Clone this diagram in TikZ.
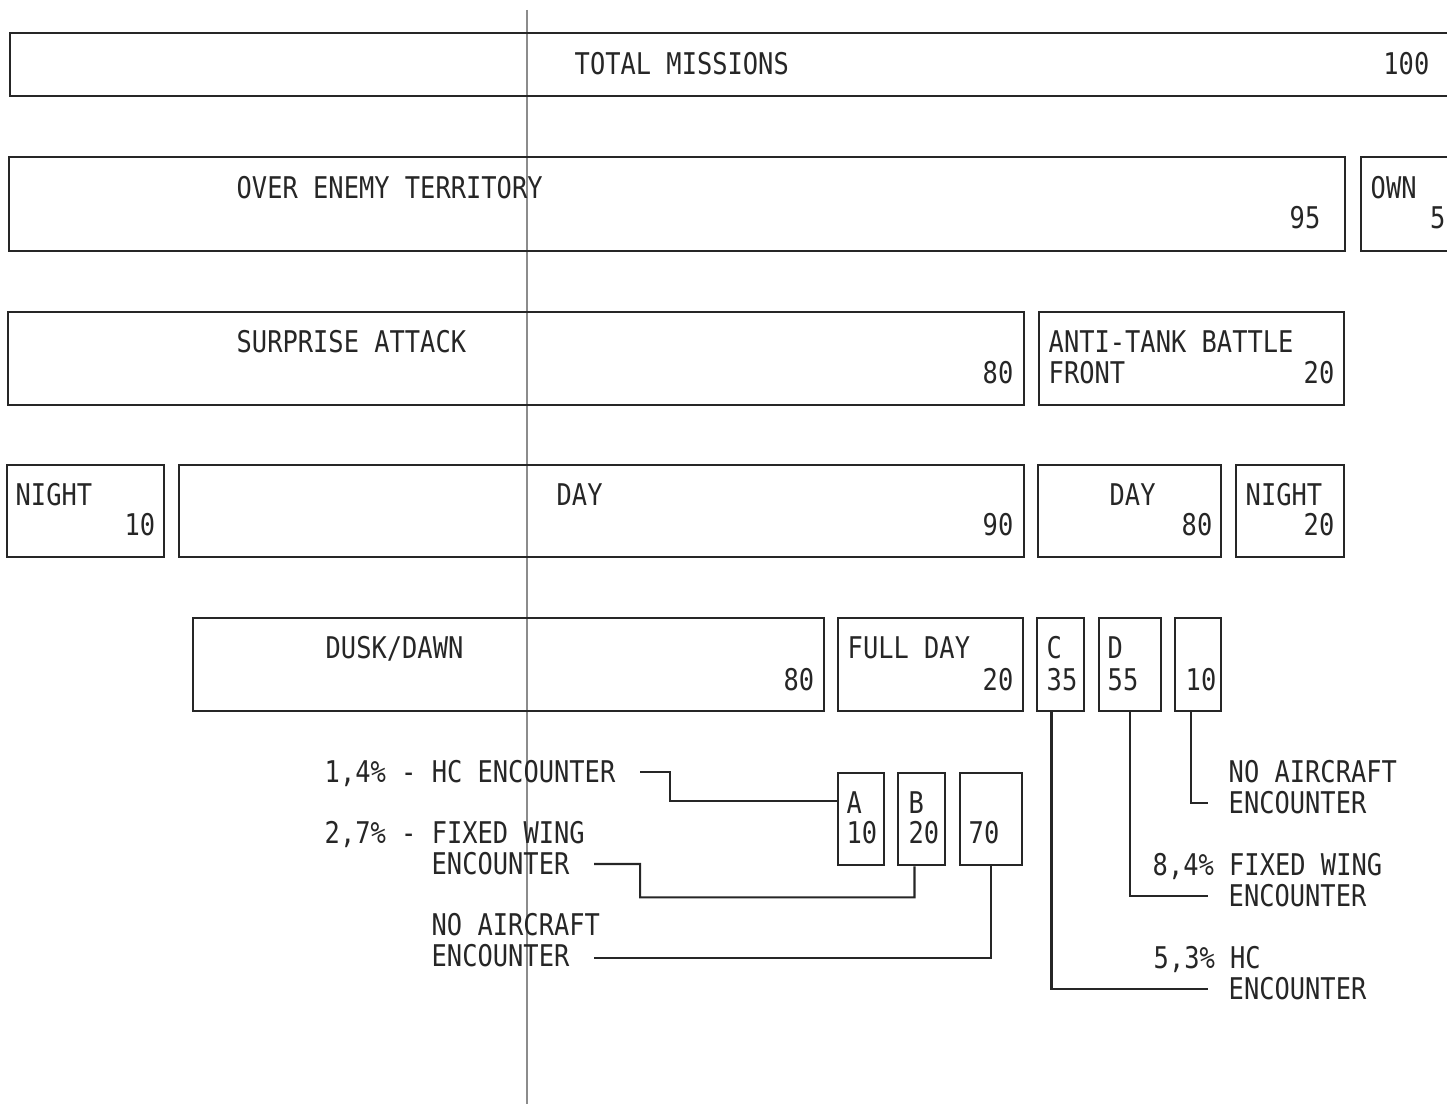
\documentclass[tikz,border=0pt]{standalone}
\usepackage{fontspec}
\newfontfamily\chartfont[FakeStretch=0.85]{DejaVu Sans Mono}
\usetikzlibrary{positioning, fit, calc}

\begin{document}
\begin{tikzpicture}[
    x=0.01cm, y=-0.01cm,
    box/.style={rectangle, draw=black!85, line width=0.75pt, inner sep=0pt},
    lbl/.style={anchor=west, inner sep=0pt, text height=6.2pt, text depth=0pt,
                font=\chartfont\fontsize{8.5pt}{10pt}\selectfont, text=black!85},
    num/.style={lbl, anchor=east},
    link/.style={draw=black!85, line width=0.6pt},
  ]

  % Page size in pixel units (x right, y down)
  \useasboundingbox (0,0) rectangle (1447,1104);
  \clip (0,0) rectangle (1447,1104);

  % Row tops / bottoms
  \def\topA{33}   \def\botA{96}    % total
  \def\topB{157}  \def\botB{251}   % territory
  \def\topC{312}  \def\botC{405}   % attack type
  \def\topD{465}  \def\botD{557}   % day / night
  \def\topE{618}  \def\botE{711}   % light / encounter groups
  \def\topF{773}  \def\botF{865}   % encounter groups (day)

  % fold line of the sheet
  \draw[black!45, line width=0.3pt] (527,10) -- (527,1104);

  % ── Total ────────────────────────────────────────────────────────────
  \node[box, fit={(10,\topA)(1480,\botA)}] (tot) {};
  \node[lbl] (totT) at (574,64) {TOTAL MISSIONS};
  \node[num] (totN) at (1430,64) {100};

  % ── Territory ────────────────────────────────────────────────────────
  \node[box, fit={(9,\topB)(1345,\botB)}] (enemy) {};
  \node[lbl] (enemyT) at (236,188) {OVER ENEMY TERRITORY};
  \node[num] (enemyN) at (1321,218) {95};

  \node[box, fit={(1361,\topB)(1480,\botB)}] (own) {};
  \node[lbl] (ownT) at (1370,188) {OWN};
  \node[num] (ownN) at (1446,218) {5};

  % ── Attack type ──────────────────────────────────────────────────────
  \node[box, fit={(8,\topC)(1024,\botC)}] (surp) {};
  \node[lbl] (surpT) at (236,342) {SURPRISE ATTACK};
  \node[num] (surpN) at (1014,373) {80};

  \node[box, fit={(1039,\topC)(1344,\botC)}] (atb) {};
  \node[lbl] (atbT) at (1048,342) {ANTI-TANK BATTLE};
  \node[lbl] (atbT2) at (1048,373) {FRONT};
  \node[num] (atbN) at (1335,373) {20};

  % ── Day / night ──────────────────────────────────────────────────────
  \node[box, fit={(7,\topD)(164,\botD)}] (snight) {};
  \node[lbl] (snightT) at (15,495) {NIGHT};
  \node[num] (snightN) at (156,525) {10};

  \node[box, fit={(179,\topD)(1024,\botD)}] (sday) {};
  \node[lbl] (sdayT) at (556,495) {DAY};
  \node[num] (sdayN) at (1014,525) {90};

  \node[box, fit={(1038,\topD)(1221,\botD)}] (aday) {};
  \node[lbl] (adayT) at (1109,495) {DAY};
  \node[num] (adayN) at (1213,525) {80};

  \node[box, fit={(1236,\topD)(1344,\botD)}] (anight) {};
  \node[lbl] (anightT) at (1245,495) {NIGHT};
  \node[num] (anightN) at (1335,525) {20};

  % ── Light / encounter groups ─────────────────────────────────────────
  \node[box, fit={(193,\topE)(824,\botE)}] (dusk) {};
  \node[lbl] (duskT) at (325,648) {DUSK/DAWN};
  \node[num] (duskN) at (815,680) {80};

  \node[box, fit={(838,\topE)(1023,\botE)}] (full) {};
  \node[lbl] (fullT) at (847,648) {FULL DAY};
  \node[num] (fullN) at (1014,680) {20};

  \node[box, fit={(1037,\topE)(1084,\botE)}] (grpC) {};
  \node[lbl] (grpCT) at (1046,648) {C};
  \node[lbl] (grpCN) at (1046,680) {35};

  \node[box, fit={(1099,\topE)(1161,\botE)}] (grpD) {};
  \node[lbl] (grpDT) at (1107,648) {D};
  \node[lbl] (grpDN) at (1107,680) {55};

  \node[box, fit={(1175,\topE)(1221,\botE)}] (grpX) {};
  \node[lbl] (grpXN) at (1185,680) {10};

  \node[box, fit={(838,\topF)(884,\botF)}] (grpA) {};
  \node[lbl] (grpAT) at (846,803) {A};
  \node[lbl] (grpAN) at (846,833) {10};

  \node[box, fit={(898,\topF)(945,\botF)}] (grpB) {};
  \node[lbl] (grpBT) at (908,803) {B};
  \node[lbl] (grpBN) at (908,833) {20};

  \node[box, fit={(960,\topF)(1022,\botF)}] (grpN) {};
  \node[lbl] (grpNN) at (968,833) {70};

  % ── Encounter notes, full day ────────────────────────────────────────
  \node[lbl] (noteA) at (324,772) {1,4\% - HC ENCOUNTER};
  \node[lbl] (noteB1) at (324,833) {2,7\% - FIXED WING};
  \node[lbl] (noteB2) at (431,864) {ENCOUNTER};
  \node[lbl] (noteN1) at (431,925) {NO AIRCRAFT};
  \node[lbl] (noteN2) at (431,956) {ENCOUNTER};

  \draw[link] ([xshift=0.24cm]noteA.east) -- ++(30,0)
    |- ($(grpA.north west)+(0,29)$);
  \draw[link] ([xshift=0.24cm]noteB2.east) -- ++(46,0)
    |- ($(grpB.south)+(-7,31)$) -- ([xshift=-0.07cm]grpB.south);
  \draw[link] ([xshift=0.24cm,yshift=-0.02cm]noteN2.east) -| (grpN.south);

  % ── Encounter notes, anti-tank day ───────────────────────────────────
  \node[lbl] (noteX1) at (1228,772) {NO AIRCRAFT};
  \node[lbl] (noteX2) at (1228,803) {ENCOUNTER};
  \node[lbl] (noteD1) at (1152,865) {8,4\% FIXED WING};
  \node[lbl] (noteD2) at (1228,896) {ENCOUNTER};
  \node[lbl] (noteC1) at (1153,958) {5,3\% HC};
  \node[lbl] (noteC2) at (1228,989) {ENCOUNTER};

  \draw[link] ([xshift=-0.07cm]grpX.south) |- ([xshift=-0.2cm]noteX2.west);
  \draw[link] (grpD.south) |- ([xshift=-0.2cm]noteD2.west);
  \draw[link] ([xshift=-0.09cm]grpC.south) |- ([xshift=-0.2cm]noteC2.west);

\end{tikzpicture}
\end{document}
